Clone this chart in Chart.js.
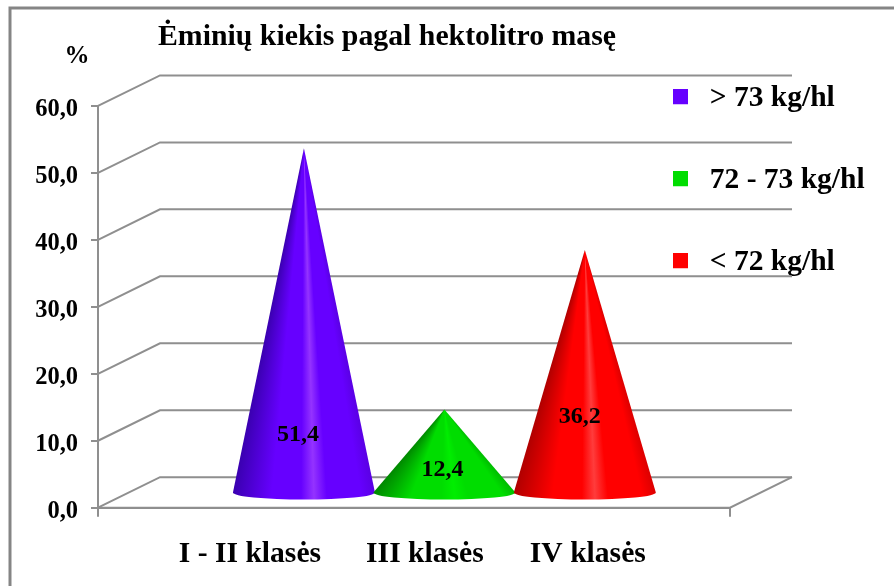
<!DOCTYPE html>
<html lang="lt">
<head>
<meta charset="utf-8">
<style>html,body{margin:0;padding:0;background:#fff}#w{width:894px;height:586px}</style>
<script src="https://cdn.jsdelivr.net/npm/chart.js@4/dist/chart.umd.min.js"></script>
</head>
<body>
<div id="w"><canvas id="c" width="894" height="586"></canvas></div>
<script>
const chartTitle = 'Ėminių kiekis pagal hektolitro masę';
const yUnit = '%';
const categories = ['I - II klasės', 'III klasės', 'IV klasės'];
const values = [51.4, 12.4, 36.2];
const seriesNames = ['> 73 kg/hl', '72 - 73 kg/hl', '< 72 kg/hl'];
const yTicks = [0, 10, 20, 30, 40, 50, 60];
const colors = ['#6600ff', '#00dd00', '#ff0000'];

const SERIF = '"Liberation Serif", serif';
const GRID = '#8f8f8f';
const DEPTH_X = 62, DEPTH_Y = 30.5;          // 3D depth of the chart box
const BASE_RX = 71, BASE_RY = 7;             // cone base ellipse
const labelShift = [[-6, 58], [-2, 23], [-5, 76]]; // hand-placed data labels, px from base
const tickSpots = [0.836, 2.082, 3.242];     // category label anchors on the x scale
const shades = [
  {dark:'#3a00b0', right:'#5a00e4', hi:'#9433ff'},
  {dark:'#008800', right:'#00bc00', hi:'#00ee00'},
  {dark:'#b00000', right:'#dc0000', hi:'#ff3c3c'}
];
const fmt = v => v.toFixed(1).replace('.', ',');

function squareIcon(color){
  const c = document.createElement('canvas');
  c.width = 15; c.height = 18;
  const g = c.getContext('2d');
  g.fillStyle = color; g.fillRect(0,0,15,15);
  return c;
}

function drawCone(ctx, cx, tipY, baseY, base, i){
  const h = baseY - tipY;
  const shade = shades[i];
  const a = x => Math.atan2(h, x);                 // angle of a generatrix through base offset x
  const g = ctx.createConicGradient(0, cx, tipY);
  const stops = [[1,shade.right],[0.8,base],[0.32,base],[0.14,shade.hi],[-0.04,base],[-0.45,base],[-1,shade.dark]];
  g.addColorStop(0, shade.right);
  stops.forEach(([f,col]) => {
    const t = a(f*BASE_RX) / (2*Math.PI);
    g.addColorStop(Math.min(1,Math.max(0,t)), col);
  });
  g.addColorStop(1, shade.dark);
  ctx.save();
  ctx.beginPath();
  ctx.moveTo(cx, tipY);
  ctx.lineTo(cx + BASE_RX, baseY);
  ctx.ellipse(cx, baseY, BASE_RX, BASE_RY, 0, 0, Math.PI);
  ctx.closePath();
  ctx.fillStyle = g;
  ctx.fill();
  ctx.restore();
}

const box3d = {
  id: 'box3d',
  afterLayout(chart){
    const t = chart.titleBlock;
    t.left = 158; t.right = 800;
    const l = chart.legend;
    l.left = 666 - l.options.labels.padding; l.right = 894;
    l.top = 31; l.bottom = 586;
    // the reference prints the value labels slightly below their tick marks
    const y = chart.scales.y;
    if (!y._labelNudged) {
      const orig = y._computeLabelItems;
      y._computeLabelItems = function(area){
        const items = orig.call(this, area);
        items.forEach(it => { it.textOffset += 4; });
        return items;
      };
      y._labelNudged = true;
    }
    y._labelItems = null;
  },
  beforeDatasetsDraw(chart){
    const {ctx, scales:{x, y}} = chart;
    const L = chart.chartArea.left, R = chart.chartArea.right, B = y.getPixelForValue(0);
    ctx.save();
    // outer frame
    ctx.strokeStyle = '#858585'; ctx.lineWidth = 3;
    ctx.beginPath(); ctx.moveTo(10, 586); ctx.lineTo(10, 8); ctx.lineTo(894, 8); ctx.stroke();
    // back wall + side wall lines
    ctx.strokeStyle = GRID; ctx.lineWidth = 2;
    yTicks.forEach(v => {
      const p = y.getPixelForValue(v);
      ctx.beginPath();
      ctx.moveTo(L, p); ctx.lineTo(L + DEPTH_X, p - DEPTH_Y); ctx.lineTo(R + DEPTH_X, p - DEPTH_Y);
      ctx.stroke();
    });
    // right floor edge and x end ticks
    ctx.beginPath();
    ctx.moveTo(R + DEPTH_X, B - DEPTH_Y); ctx.lineTo(R, B); ctx.lineTo(L, B);
    ctx.moveTo(R, B); ctx.lineTo(R, B + 9);
    ctx.moveTo(L, B); ctx.lineTo(L, B + 9);
    ctx.stroke();
    // unit label
    ctx.fillStyle = '#000'; ctx.font = 'bold 25px ' + SERIF;
    ctx.textAlign = 'center'; ctx.textBaseline = 'middle';
    ctx.fillText(yUnit, 77, 57);
    ctx.restore();
  },
  beforeDatasetDraw(chart){
    const {ctx} = chart;
    const y = chart.scales.y;
    const meta = chart.getDatasetMeta(0);
    meta.data.forEach((el, i) => {
      const cx = el.x + DEPTH_X/2;
      const baseY = y.getPixelForValue(0) - DEPTH_Y/2;
      const tipY = el.y - DEPTH_Y/2;
      drawCone(ctx, cx, tipY, baseY, colors[i], i);
    });
    meta.data.forEach((el, i) => {
      const cx = el.x + DEPTH_X/2;
      const baseY = y.getPixelForValue(0) - DEPTH_Y/2;
      ctx.fillStyle = '#000';
      ctx.font = 'bold 24px ' + SERIF;
      ctx.textAlign = 'center'; ctx.textBaseline = 'middle';
      ctx.fillText(fmt(values[i]), cx + labelShift[i][0], baseY - labelShift[i][1]);
    });
    return false;
  }
};

new Chart(document.getElementById('c'), {
  type: 'bar',
  data: {
    labels: categories,
    datasets: [{
      label: chartTitle,
      data: categories.map((c, i) => ({x: i + 1, y: values[i]})),
      backgroundColor: colors,
      barThickness: 142
    }]
  },
  plugins: [box3d],
  options: {
    responsive: false,
    animation: false,
    layout: {padding: {right: 164}},
    plugins: {
      title: {
        display: true, text: chartTitle, align: 'start', color: '#000',
        font: {family: SERIF, size: 29.8, weight: 'bold'},
        padding: {top: 19, bottom: 51.2}
      },
      legend: {
        display: true, position: 'chartArea', align: 'start',
        labels: {
          usePointStyle: true, pointStyleWidth: 29, boxHeight: 15,
          padding: 52.5, color: '#000',
          font: {family: SERIF, size: 29.5, weight: 'bold'},
          generateLabels: () => seriesNames.map((n, i) => ({
            text: n, fillStyle: colors[i], strokeStyle: colors[i], lineWidth: 0,
            pointStyle: squareIcon(colors[i]), datasetIndex: 0, index: i, fontColor: '#000'
          }))
        }
      },
      tooltip: {enabled: false}
    },
    scales: {
      x: {
        type: 'linear', min: -0.2456, max: 4.2544, offset: false,
        afterBuildTicks: s => { s.ticks = tickSpots.map(v => ({value: v})); },
        afterFit: s => { s.height = 78.3; },
        grid: {display: false, offset: false},
        border: {display: true, color: GRID, width: 2},
        ticks: {
          autoSkip: false, maxRotation: 0, padding: 21, color: '#000',
          font: {family: SERIF, size: 29.6, weight: 'bold'},
          callback: (v, i) => categories[i]
        }
      },
      y: {
        min: 0, max: 60,
        afterFit: s => { s.width = 98; },
        afterBuildTicks: s => { s.ticks = yTicks.map(v => ({value: v})); },
        grid: {drawOnChartArea: false, drawTicks: true, tickLength: 7, color: GRID, lineWidth: 2},
        border: {display: true, color: GRID, width: 2},
        ticks: {
          padding: 13, color: '#000',
          font: {family: SERIF, size: 24.5, weight: 'bold'},
          callback: v => fmt(v)
        }
      }
    }
  }
});
</script>
</body>
</html>
